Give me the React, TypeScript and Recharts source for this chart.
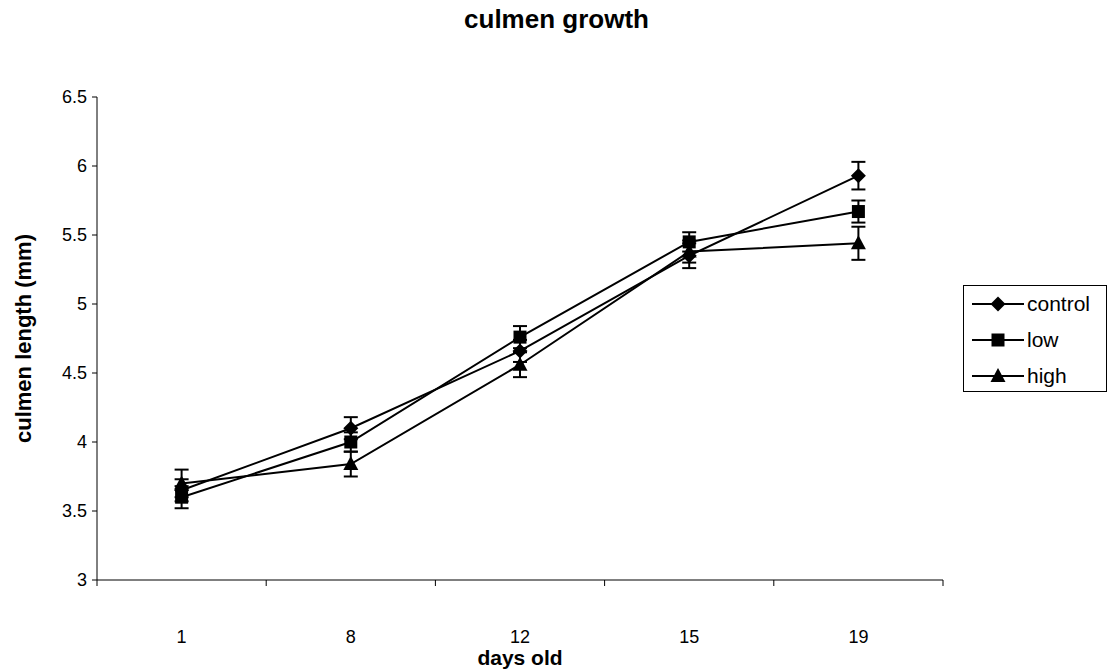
import React from 'react';
import { LineChart, Line, XAxis, YAxis, ErrorBar, Label } from 'recharts';

const days = ['1', '8', '12', '15', '19'];
const control = [3.65, 4.1, 4.66, 5.35, 5.93];
const controlErr = [0.08, 0.08, 0.08, 0.09, 0.1];
const low = [3.6, 4.0, 4.76, 5.45, 5.67];
const lowErr = [0.08, 0.07, 0.08, 0.07, 0.08];
const high = [3.7, 3.84, 4.56, 5.38, 5.44];
const highErr = [0.1, 0.09, 0.09, 0.08, 0.12];
const yTicks = [3, 3.5, 4, 4.5, 5, 5.5, 6, 6.5];
const seriesNames = ['control', 'low', 'high'];

const data = days.map((d, i) => ({
  pos: i + 0.5,
  day: d,
  control: control[i],
  controlErr: controlErr[i],
  low: low[i],
  lowErr: lowErr[i],
  high: high[i],
  highErr: highErr[i],
}));

const xTicks: number[] = [];
for (let i = 0; i <= days.length; i++) {
  xTicks.push(i);
  if (i < days.length) xTicks.push(i + 0.5);
}

const FONT = '"Liberation Sans", Arial, Helvetica, sans-serif';

type Shape = 'diamond' | 'square' | 'triangle';

const markerEl = (shape: Shape, cx: number, cy: number, key?: string) => {
  if (shape === 'diamond') {
    const r = 7.5;
    return <polygon key={key} points={`${cx},${cy - r} ${cx + r},${cy} ${cx},${cy + r} ${cx - r},${cy}`} fill="#000" />;
  }
  if (shape === 'square') {
    const r = 6.5;
    return <rect key={key} x={cx - r} y={cy - r} width={r * 2} height={r * 2} fill="#000" />;
  }
  return <polygon key={key} points={`${cx},${cy - 8} ${cx + 7.5},${cy + 6} ${cx - 7.5},${cy + 6}`} fill="#000" />;
};

const makeDot = (shape: Shape) => (props: any) => {
  const { cx, cy, index } = props;
  if (cx == null || cy == null) return <g key={`${shape}-${index}`} />;
  return markerEl(shape, cx, cy, `${shape}-${index}`);
};

const XTick = (props: any) => {
  const { x, y, payload } = props;
  const v = payload.value as number;
  if (Number.isInteger(v)) {
    return <line x1={x} y1={y} x2={x} y2={y + 6} stroke="#000" strokeWidth={1} />;
  }
  return (
    <text x={x} y={y + 63} textAnchor="middle" fontSize={18} fontFamily={FONT} fill="#000">
      {days[Math.floor(v)]}
    </text>
  );
};

const shapes: Shape[] = ['diamond', 'square', 'triangle'];

const LegendBox = () => (
  <div
    style={{
      position: 'absolute',
      left: 963,
      top: 285,
      border: '1px solid #000',
      width: 144,
      height: 107,
      boxSizing: 'border-box',
      background: '#fff',
      fontFamily: FONT,
    }}
  >
    {seriesNames.map((n, i) => (
      <div
        key={n}
        style={{ position: 'absolute', left: 8, top: 6 + i * 36, height: 24, display: 'flex', alignItems: 'center' }}
      >
        <svg width={52} height={24} style={{ display: 'block' }}>
          <line x1={0} y1={12} x2={52} y2={12} stroke="#000" strokeWidth={2} />
          {markerEl(shapes[i], 26, 12)}
        </svg>
        <span style={{ fontSize: 21, marginLeft: 3, color: '#000', lineHeight: '24px' }}>{n}</span>
      </div>
    ))}
  </div>
);

export default function App() {
  return (
    <div style={{ position: 'absolute', left: 0, top: 0, width: 1113, height: 672, background: '#fff' }}>
      <div
        style={{
          position: 'absolute',
          left: 0,
          top: 4,
          width: 1113,
          textAlign: 'center',
          fontFamily: FONT,
          fontWeight: 'bold',
          fontSize: 26,
          color: '#000',
        }}
      >
        culmen growth
      </div>
      <LineChart
        width={1113}
        height={672}
        data={data}
        margin={{ top: 97, right: 170, bottom: 62, left: 37 }}
        style={{ fontFamily: FONT, position: 'absolute', left: 0, top: 0 }}
      >
        <XAxis
          dataKey="pos"
          type="number"
          domain={[0, days.length]}
          ticks={xTicks}
          interval={0}
          tick={<XTick />}
          tickLine={false}
          tickSize={0}
          tickMargin={0}
          height={30}
          stroke="#000"
          allowDataOverflow
        >
          <Label
            content={(p: any) => {
              const vb = p.viewBox;
              return (
                <text
                  x={vb.x + vb.width / 2}
                  y={vb.y + 85}
                  textAnchor="middle"
                  fontSize={21}
                  fontWeight="bold"
                  fontFamily={FONT}
                  fill="#000"
                >
                  days old
                </text>
              );
            }}
          />
        </XAxis>
        <YAxis
          type="number"
          domain={[3, 6.5]}
          ticks={yTicks}
          interval={0}
          width={60}
          tickSize={5}
          tickMargin={5}
          stroke="#000"
          tick={{ fill: '#000', fontSize: 18, fontFamily: FONT }}
        >
          <Label
            content={(p: any) => {
              const vb = p.viewBox;
              const cx = vb.x - 14;
              const cy = vb.y + vb.height / 2;
              return (
                <text
                  x={cx}
                  y={cy}
                  transform={`rotate(-90 ${cx} ${cy})`}
                  textAnchor="middle"
                  dominantBaseline="central"
                  fontSize={22}
                  fontWeight="bold"
                  fontFamily={FONT}
                  fill="#000"
                >
                  culmen length (mm)
                </text>
              );
            }}
          />
        </YAxis>
        <Line dataKey="control" name="control" stroke="#000" strokeWidth={2} dot={makeDot('diamond')} activeDot={false} isAnimationActive={false}>
          <ErrorBar dataKey="controlErr" width={7} stroke="#000" strokeWidth={2} direction="y" />
        </Line>
        <Line dataKey="low" name="low" stroke="#000" strokeWidth={2} dot={makeDot('square')} activeDot={false} isAnimationActive={false}>
          <ErrorBar dataKey="lowErr" width={7} stroke="#000" strokeWidth={2} direction="y" />
        </Line>
        <Line dataKey="high" name="high" stroke="#000" strokeWidth={2} dot={makeDot('triangle')} activeDot={false} isAnimationActive={false}>
          <ErrorBar dataKey="highErr" width={7} stroke="#000" strokeWidth={2} direction="y" />
        </Line>
      </LineChart>
      <LegendBox />
    </div>
  );
}
